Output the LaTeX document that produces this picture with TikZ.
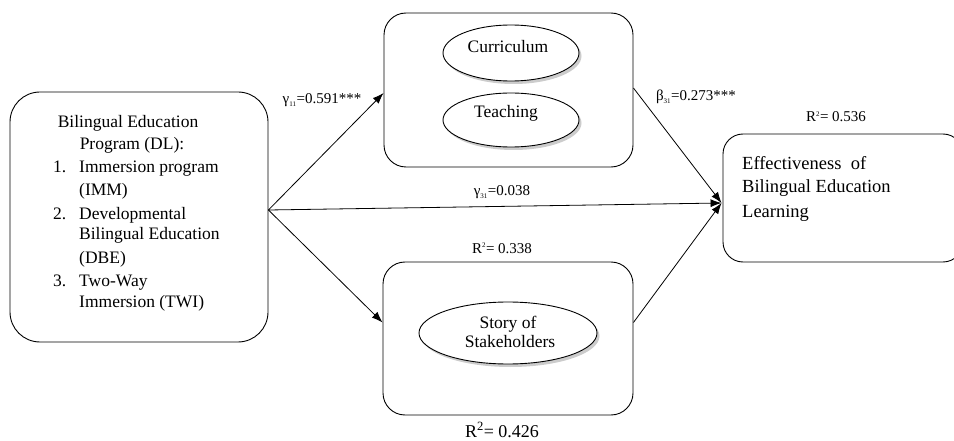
\documentclass[tikz,border=0pt]{standalone}
\usepackage{fontspec}
\setmainfont{Liberation Serif}
\usetikzlibrary{shapes.geometric,shadows,arrows.meta,calc}
\begin{document}
\begin{tikzpicture}[x=1pt,y=-1pt,
  box/.style={draw,line width=0.9pt,rounded corners=#1,inner sep=0pt},
  ell/.style={draw,ellipse,line width=0.9pt,fill=white,inner sep=0pt,
    drop shadow={shadow xshift=2.5pt,shadow yshift=-3pt,fill=gray!80}},
  ltxt/.style={font=\fontsize{17.5}{20}\selectfont,inner sep=0pt,anchor=base west},
  ctxt/.style={font=\fontsize{17.5}{20}\selectfont,inner sep=0pt,anchor=base},
  rtxt/.style={font=\fontsize{18.5}{22}\selectfont,inner sep=0pt,anchor=base west},
  lbl/.style={font=\fontsize{15}{18}\selectfont,inner sep=0pt,anchor=base},
  arr/.style={-{Latex[length=11pt,width=8pt]},line width=0.8pt}]
\useasboundingbox (0,0) rectangle (954,441);
\clip (0,0) rectangle (954,441);

% boxes
\node[box=30pt,minimum width=258pt,minimum height=250pt] (L) at (139,217) {};
\node[box=22pt,minimum width=249pt,minimum height=154pt] (T) at (508.5,90) {};
\node[box=22pt,minimum width=250pt,minimum height=153pt] (B) at (508,338.5) {};
\node[box=20pt,minimum width=240pt,minimum height=128pt] (R) at (843,198) {};

% ellipses
\node[ell,minimum width=136pt,minimum height=56pt] (ecur) at (511,53) {};
\node[ell,minimum width=136pt,minimum height=54pt] (etea) at (511,120) {};
\node[ell,minimum width=178pt,minimum height=62pt] (esto) at (508,333) {};
\node[ctxt] (tcur) at (508,53) {Curriculum};
\node[ctxt] (ttea) at (506,118) {Teaching};
\node[ctxt] (tsto1) at (508,328) {Story of};
\node[ctxt] (tsto2) at (510,347) {Stakeholders};

% left box text
\node[ctxt] (lt1) at (128,128) {Bilingual Education};
\node[ctxt] (lt2) at (132,150) {Program (DL):};
\node[ltxt] (n1) at (53,173) {1.};
\node[ltxt] (i1a) at (79,173) {Immersion program};
\node[ltxt] (i1b) at (79,196) {(IMM)};
\node[ltxt] (n2) at (53,219) {2.};
\node[ltxt] (i2a) at (79,219) {Developmental};
\node[ltxt] (i2b) at (79,240) {Bilingual Education};
\node[ltxt] (i2c) at (79,263) {(DBE)};
\node[ltxt] (n3) at (53,286) {3.};
\node[ltxt] (i3a) at (79,286) {Two-Way};
\node[ltxt] (i3b) at (79,307) {Immersion (TWI)};

% right box text
\node[rtxt] (r1) at (742,170) {Effectiveness\ \ of};
\node[rtxt] (r2) at (742,193) {Bilingual Education};
\node[rtxt] (r3) at (742,218) {Learning};

% connectors
\coordinate (src) at ($(L.east)+(0,-7)$);
\coordinate (tgt) at ($(R.west)+(-1,5)$);
\coordinate (tin) at ($(T.west)+(0,3)$);
\coordinate (bin) at ($(B.west)+(0,-16)$);
\coordinate (tout) at ($(T.east)+(0,-2)$);
\coordinate (bout) at ($(B.east)+(0,-16)$);
\draw[arr] (src) -- (tin);
\draw[arr] (src) -- (bin);
\draw[arr] (src) -- (tgt);
\draw[arr] (tout) -- (tgt);
\draw[arr] (bout) -- (tgt);

% labels
\node[lbl] (g11) at (322,104) {γ\textsubscript{\fontsize{7}{8}\selectfont 11}=0.591***};
\node[lbl] (g31) at (502,196) {γ\textsubscript{\fontsize{7}{8}\selectfont 31}=0.038};
\node[lbl] (b31) at (696,101) {β\textsubscript{\fontsize{7}{8}\selectfont 31}=0.273***};
\node[lbl] (r536) at (836,122) {R\textsuperscript{\fontsize{7}{8}\selectfont 2}= 0.536};
\node[lbl] (r338) at (502,253) {R\textsuperscript{\fontsize{7}{8}\selectfont 2}= 0.338};
\node[lbl,font=\fontsize{18}{21}\selectfont] (r426) at (502,437) {R\textsuperscript{2}= 0.426};
\end{tikzpicture}
\end{document}
